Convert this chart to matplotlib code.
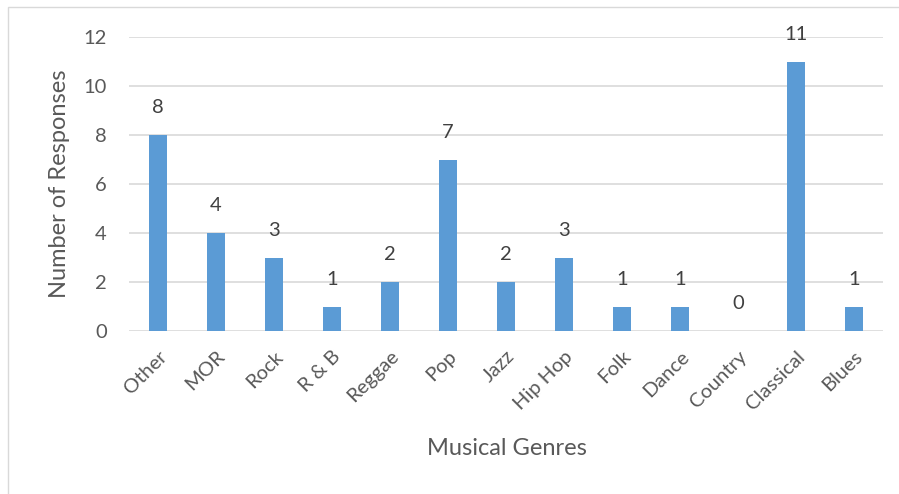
import numpy as np
import matplotlib.pyplot as plt
from matplotlib.patches import Rectangle

# datos
genres = ["Other", "MOR", "Rock", "R & B", "Reggae", "Pop", "Jazz", "Hip Hop",
          "Folk", "Dance", "Country", "Classical", "Blues"]
responses = [8, 4, 3, 1, 2, 7, 2, 3, 1, 1, 0, 11, 1]
yticks = [0, 2, 4, 6, 8, 10, 12]

plt.rcParams['font.family'] = ['Lato', 'DejaVu Sans']
txt = '#595959'
bar_color = '#5B9BD5'
grid_color = '#D9D9D9'

fig = plt.figure(figsize=(8.99, 4.94), dpi=100)
fig.patches.append(Rectangle((8/899, -0.01), 1.0, 1 - 7/494 + 0.01,
                             transform=fig.transFigure, fill=False,
                             edgecolor='#D9D9D9', linewidth=1))

ax = fig.add_axes([129/899, 1 - 331/494, (883 - 129)/899, (331 - 37)/494])
x = np.arange(len(genres))
ax.bar(x, responses, width=0.31, color=bar_color, zorder=3)

for xi, v in zip(x, responses):
    ax.annotate(str(v), (xi, v), xytext=(0, 19.5), textcoords='offset points',
                ha='center', va='center', fontsize=14.5, color='#404040')

ax.set_xlim(-0.5, len(genres) - 0.5)
ax.set_ylim(0, 12)
ax.set_yticks(yticks)
ax.set_xticks(x)
ax.set_xticklabels(genres, rotation=45, ha='right', rotation_mode='anchor')
ax.tick_params(axis='both', length=0, labelsize=14.5, labelcolor=txt)
ax.tick_params(axis='y', pad=16)
ax.tick_params(axis='x', pad=12)
ax.grid(axis='y', color=grid_color, linewidth=1.2, zorder=0)
for s in ax.spines.values():
    s.set_visible(False)

fig.text(59/899, 1 - 184/494, "Number of Responses", ha='center', va='center',
         rotation=90, fontsize=17, color=txt)
fig.text(507/899, 1 - 448/494, "Musical Genres", ha='center',
         va='center', fontsize=17, color=txt)

plt.savefig("out.png", dpi=100)
